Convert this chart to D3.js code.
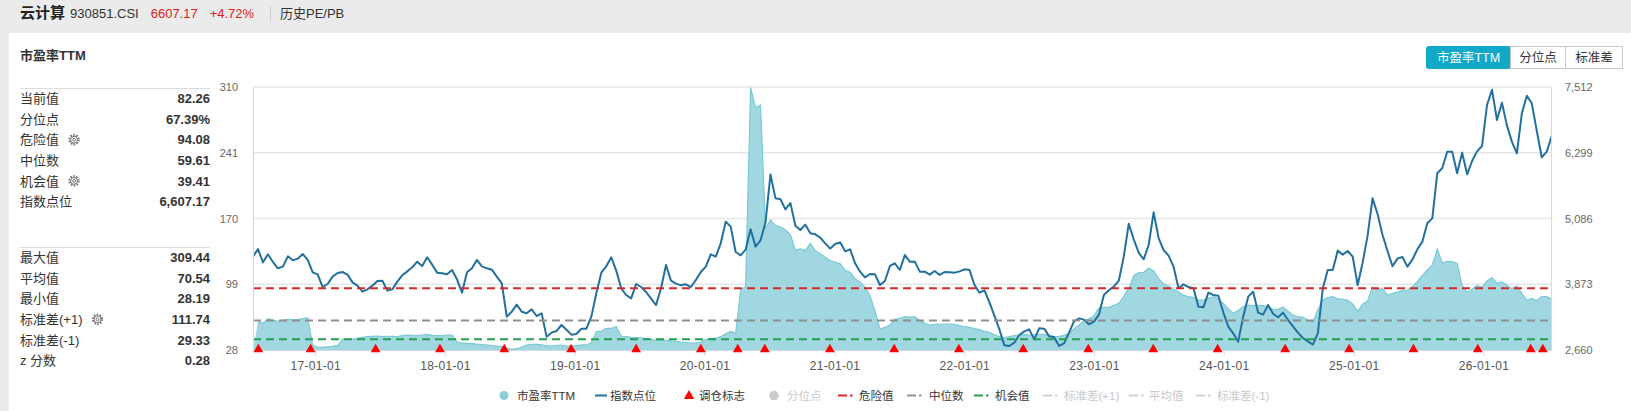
<!DOCTYPE html>
<html><head><meta charset="utf-8">
<script src="https://cdn.jsdelivr.net/npm/d3@7/dist/d3.min.js"></script>
<style>
body{margin:0;background:#ebebeb;font-family:"Liberation Sans","Noto Sans CJK SC",sans-serif;}
svg{display:block}
</style></head><body>
<svg id="c" width="1631" height="411"></svg>
<script>
// ---------------- data ----------------
const seriesStart = "2016-07-10";   // first sample date
const stepDays = 14;                // one sample every two weeks
const domainDates = ["2016-07-10", "2026-07-10"];

const peValues = [
28.19,58.4,56.6,61.6,60.2,58.7,60.2,60.9,60.5,60.9,61.6,62.7,33.0,31.2,30.9,31.6,31.9,33.0,39.4,39.4,
39.8,40.9,41.6,42.3,42.7,43.0,42.3,42.7,42.7,42.3,43.4,44.1,43.7,43.4,44.1,44.8,43.7,43.4,43.4,44.1,
44.1,36.9,35.1,35.1,34.8,34.4,33.7,33.4,32.6,32.3,31.6,29.8,28.7,29.4,31.2,33.4,34.1,34.1,33.4,32.6,
32.3,33.0,33.0,32.3,32.3,32.6,33.4,33.4,35.9,47.7,48.4,51.2,51.2,53.0,43.0,42.3,41.6,41.2,40.9,40.2,
39.4,38.0,38.7,38.4,38.0,37.3,36.6,36.2,35.5,35.9,36.6,39.1,40.5,40.5,42.3,45.5,48.0,45.9,92.7,95.9,
309.4,287.8,290.7,158.5,167.4,161.3,159.9,156.7,151.7,134.9,136.3,134.5,142.4,134.5,131.3,127.4,123.8,122.4,120.6,113.4,
111.3,104.5,100.9,95.5,86.3,69.8,50.5,52.3,54.8,60.9,62.0,63.7,63.4,63.7,59.5,56.6,54.8,55.5,55.5,55.9,
55.9,55.5,54.1,53.0,52.3,50.9,49.8,48.0,46.9,44.4,42.3,41.2,42.3,43.4,44.1,44.8,44.1,44.1,44.8,44.8,
43.7,42.3,42.7,43.7,45.5,50.5,54.8,59.1,61.6,64.8,73.0,73.7,73.7,75.9,78.0,85.5,94.1,107.7,110.9,111.3,
115.6,113.1,104.5,99.1,96.6,93.0,90.2,86.6,85.2,84.5,81.6,81.6,83.4,85.2,82.7,78.0,72.3,67.3,70.2,74.5,
76.2,75.5,75.9,75.5,74.1,71.6,71.6,74.1,69.5,65.5,63.7,63.0,60.2,57.7,70.9,81.6,84.1,85.2,83.0,82.3,
81.6,77.3,69.5,77.0,80.9,95.2,93.0,93.8,86.6,88.8,90.2,92.0,92.3,95.9,101.6,108.1,113.8,119.1,136.3,121.6,
123.1,122.7,120.9,97.3,89.5,93.4,97.0,95.5,102.0,105.6,99.5,100.9,97.7,93.8,96.6,88.8,81.6,83.4,80.9,85.2,
85.2,82.26];

const indexValues = [
4382,4523,4277,4425,4284,4167,4198,4388,4314,4345,4431,4321,4093,4056,3822,3878,4013,4081,4099,4050,
3908,3847,3736,3779,3847,3933,3939,3755,3779,3921,4038,4111,4185,4290,4210,4370,4234,4087,4075,4056,
4136,3964,3718,4093,4167,4321,4204,4167,4142,4013,3890,3275,3367,3496,3367,3337,3410,3287,3337,2906,
2980,3011,3121,3035,2943,2955,3054,3054,3275,3706,4087,4204,4370,4124,3798,3675,3613,3878,3822,3730,
3607,3490,3798,4228,3939,3884,3853,3872,3822,3952,4099,4198,4425,4382,4628,5028,4936,4468,4407,4511,
4886,4567,4683,5015,5900,5458,5440,5255,5372,4954,4874,4972,4813,4794,4733,4628,4530,4616,4646,4480,
4517,4259,4105,4001,4062,4056,3859,3933,4210,4259,4136,4413,4290,4290,4105,4105,4050,4118,4044,4099,
4093,4087,4111,4148,4136,3859,3718,3761,3539,3293,3041,2746,2734,2795,2937,3004,3041,2857,3060,3054,
2912,2894,2734,2783,2980,3189,3244,3220,3134,3183,3312,3675,3761,3829,3939,4382,4990,4702,4456,4333,
4597,5200,4726,4505,4400,4198,3798,3872,3822,3798,3460,3447,3718,3675,3662,3355,3091,2968,2814,3275,
3644,3736,3349,3312,3490,3330,3263,3349,3214,3097,2980,2881,2820,2758,2968,3798,4136,4136,4493,4419,
4487,4382,3859,4271,4769,5458,5169,4782,4487,4204,4345,4376,4198,4327,4517,4659,4997,5089,5920,6012,
6319,6319,5920,6301,5901,6147,6325,6424,7180,7460,6904,7223,6799,6504,6289,7027,7350,7211,6701,6215,
6319,6607];

const rebalanceDates = ["2016-07-25","2016-12-19","2017-06-20","2017-12-18","2018-06-17","2018-12-22",
"2019-06-23","2019-12-22","2020-04-04","2020-06-19","2020-12-19","2021-06-18","2021-12-17","2022-06-16",
"2022-12-16","2023-06-17","2023-12-15","2024-06-22","2024-12-19","2025-06-18","2025-12-16","2026-05-14","2026-06-17"];

const xTickDates = ["2017-01-01","2018-01-01","2019-01-01","2020-01-01","2021-01-01","2022-01-01",
"2023-01-01","2024-01-01","2025-01-01","2026-01-01"];
const leftDomain = [28, 310];
const leftTickValues = [28, 98.5, 169, 239.5, 310];
const leftTickLabels = ["28","99","170","241","310"];
const rightDomain = [2660, 7512];
const rightTickValues = [2660, 3873, 5086, 6299, 7512];

const refNames = ["危险值","中位数","机会值"];
const refValues = [94.08, 59.61, 39.41];
const refColors = ["#d42a2a","#8f8f8f","#23a052"];

const statLabelsA = ["当前值","分位点","危险值","中位数","机会值","指数点位"];
const statValuesA = ["82.26","67.39%","94.08","59.61","39.41","6,607.17"];
const statGearA = [false,false,true,false,true,false];
const statLabelsB = ["最大值","平均值","最小值","标准差(+1)","标准差(-1)","z 分数"];
const statValuesB = ["309.44","70.54","28.19","111.74","29.33","0.28"];
const statGearB = [false,false,false,true,false,false];

const legendNames = ["市盈率TTM","指数点位","调仓标志","分位点","危险值","中位数","机会值","标准差(+1)","平均值","标准差(-1)"];
const legendActive = [true,true,true,false,true,true,true,false,false,false];

// ---------------- drawing ----------------
const svg = d3.select("#c");
const W = 1631, H = 411;
const L = 253, R = 1551, T = 87, B = 350;
const PE_FILL = "#a0d7e0", PE_STROKE = "#7ccad6", IDX = "#23709f";

svg.append("rect").attr("width",W).attr("height",H).attr("fill","#ebebeb");
svg.append("rect").attr("x",9).attr("y",33).attr("width",W-9).attr("height",H-33).attr("fill","#fff");

// header
const hdr = svg.append("text").attr("x",20).attr("y",18).attr("font-size",13).attr("fill","#333");
hdr.append("tspan").attr("font-size",15).attr("font-weight","bold").attr("fill","#222").text("云计算");
hdr.append("tspan").attr("dx",5).text("930851.CSI");
hdr.append("tspan").attr("dx",12).attr("fill","#e02020").text("6607.17");
hdr.append("tspan").attr("dx",12).attr("fill","#e02020").text("+4.72%");
svg.append("line").attr("x1",270.5).attr("x2",270.5).attr("y1",6).attr("y2",21).attr("stroke","#ccc");
svg.append("text").attr("x",280).attr("y",18).attr("font-size",13).attr("fill","#333").text("历史PE/PB");

// left stats panel
svg.append("text").attr("x",20).attr("y",59.5).attr("font-size",13).attr("font-weight","bold").attr("fill","#333").text("市盈率TTM");
function gear(g, cx, cy){
  const s = g.append("g").attr("transform",`translate(${cx},${cy})`).attr("fill","none").attr("stroke","#777");
  s.append("circle").attr("r",4.6).attr("stroke-width",2.2).attr("stroke-dasharray","1.6,1.3");
  s.append("circle").attr("r",3.4).attr("stroke-width",1);
  s.append("circle").attr("r",1.4).attr("stroke-width",1);
}
function statBlock(y0, labels, values, gears){
  const gb = svg.append("g");
  gb.append("line").attr("x1",20).attr("x2",210).attr("y1",y0-10).attr("y2",y0-10).attr("stroke","#dcdcdc");
  labels.forEach((lab,i)=>{
    const y = y0 + i*20.6;
    const t = gb.append("text").attr("x",20).attr("y",y).attr("dy","0.36em").attr("font-size",13).attr("fill","#333").text(lab);
    gb.append("text").attr("x",210).attr("y",y).attr("dy","0.36em").attr("text-anchor","end")
      .attr("font-size",13).attr("font-weight","bold").attr("fill","#333").text(values[i]);
    if (gears[i]) {
      const w = t.node().getComputedTextLength();
      gear(gb, 20 + w + 15, y);
    }
  });
}
statBlock(98.5, statLabelsA, statValuesA, statGearA);
statBlock(257.5, statLabelsB, statValuesB, statGearB);

// buttons
const btnLabels = ["市盈率TTM","分位点","标准差"];
const btnX = [1426.5, 1510.5, 1565.5, 1622.5];
btnLabels.forEach((b,i)=>{
  const active = i===0;
  svg.append("rect").attr("x",btnX[i]).attr("y",46.5).attr("width",btnX[i+1]-btnX[i]).attr("height",22)
    .attr("rx",i===0?2:0).attr("fill",active?"#12a8c8":"#fff").attr("stroke",active?"#12a8c8":"#c8c8c8");
  svg.append("text").attr("x",(btnX[i]+btnX[i+1])/2).attr("y",57.5).attr("dy","0.36em").attr("text-anchor","middle")
    .attr("font-size",12.5).attr("fill",active?"#fff":"#333").text(b);
});

// scales
const parse = d3.timeParse("%Y-%m-%d");
const t0 = parse(seriesStart);
const data = peValues.map((pe,i)=>({date:d3.timeDay.offset(t0,i*stepDays), pe, idx:indexValues[i]}));
const x = d3.scaleTime().domain(domainDates.map(parse)).range([L,R]);
const yL = d3.scaleLinear().domain(leftDomain).range([B,T]);
const yR = d3.scaleLinear().domain(rightDomain).range([B,T]);

svg.append("clipPath").attr("id","clip").append("rect").attr("x",L).attr("y",T-5).attr("width",R-L).attr("height",B-T+5);

// grid
svg.append("g").selectAll("line").data(leftTickValues.slice(1)).join("line")
  .attr("x1",L).attr("x2",R).attr("y1",d=>yL(d)).attr("y2",d=>yL(d)).attr("stroke","#e6e6e6").attr("stroke-width",1.3);

const plot = svg.append("g").attr("clip-path","url(#clip)");
// PE area
plot.append("path").datum(data)
  .attr("d", d3.area().x(d=>x(d.date)).y0(B).y1(d=>yL(d.pe)))
  .attr("fill",PE_FILL);
plot.append("path").datum(data.slice(1))
  .attr("d", d3.line().x(d=>x(d.date)).y(d=>yL(d.pe)))
  .attr("fill","none").attr("stroke",PE_STROKE).attr("stroke-width",1.2);

// reference lines
refValues.forEach((v,i)=>{
  svg.append("line").attr("x1",L).attr("x2",R).attr("y1",yL(v)).attr("y2",yL(v))
    .attr("stroke",refColors[i]).attr("stroke-width",2).attr("stroke-dasharray","8,5");
});

// index line
plot.append("path").datum(data)
  .attr("d", d3.line().x(d=>x(d.date)).y(d=>yR(d.idx)))
  .attr("fill","none").attr("stroke",IDX).attr("stroke-width",2).attr("stroke-linejoin","round");

// axes
const axX = svg.append("g").attr("transform",`translate(0,${B})`)
  .call(d3.axisBottom(x).tickValues(xTickDates.map(parse)).tickFormat(d3.timeFormat("%y-%m-%d")).tickSize(6).tickSizeOuter(0).tickPadding(5));
const axL = svg.append("g").attr("transform",`translate(${L},0)`)
  .call(d3.axisLeft(yL).tickValues(leftTickValues).tickFormat((d,i)=>leftTickLabels[i]).tickSize(0).tickSizeOuter(0).tickPadding(15));
const axR = svg.append("g").attr("transform",`translate(${R},0)`)
  .call(d3.axisRight(yR).tickValues(rightTickValues).tickFormat(d3.format(",")).tickSize(0).tickSizeOuter(0).tickPadding(14));
[axX,axL,axR].forEach(a=>{
  a.select(".domain").attr("stroke","#d3dae6");
  a.selectAll(".tick line").attr("stroke","#d3dae6");
  a.selectAll("text").attr("fill","#666").attr("font-size",11).attr("font-family","Liberation Sans, sans-serif");
});
axX.selectAll("text").attr("font-size",12).attr("letter-spacing","0.3px").attr("fill","#555");

// rebalance triangles
svg.append("g").selectAll("path").data(rebalanceDates).join("path")
  .attr("d", d3.symbol(d3.symbolTriangle, 42))
  .attr("transform", d=>`translate(${x(parse(d))},${B-0.6})`)
  .attr("fill","#ff0000");

// legend
const lg = svg.append("g").attr("font-size",11.5);
const lgSymX = [504, 595, 689, 774, 838, 907, 974, 1043, 1129, 1196];
const lgTxtX = [517, 610, 699, 787, 859, 929, 995, 1064, 1149, 1217];
const LY = 395.5;
legendNames.forEach((n,i)=>{
  const c = legendActive[i] ? "#333" : "#c8c8c8";
  const s = lgSymX[i];
  if (i===0) lg.append("circle").attr("cx",s).attr("cy",LY).attr("r",4.6).attr("fill","#8fcfda");
  else if (i===1) lg.append("line").attr("x1",s).attr("x2",s+12).attr("y1",LY).attr("y2",LY).attr("stroke",IDX).attr("stroke-width",2);
  else if (i===2) lg.append("path").attr("d",d3.symbol(d3.symbolTriangle,46)).attr("transform",`translate(${s},${LY+0.5})`).attr("fill","#ff0000");
  else if (i===3) lg.append("circle").attr("cx",s).attr("cy",LY).attr("r",4.8).attr("fill","#cccccc");
  else {
    const col = legendActive[i] ? refColors[i-4] : "#d0d0d0";
    lg.append("line").attr("x1",s).attr("x2",s+9).attr("y1",LY).attr("y2",LY).attr("stroke",col).attr("stroke-width",2);
    lg.append("line").attr("x1",s+12).attr("x2",s+14.5).attr("y1",LY).attr("y2",LY).attr("stroke",col).attr("stroke-width",2);
  }
  lg.append("text").attr("x",lgTxtX[i]).attr("y",LY).attr("dy","0.36em").attr("fill",c).text(n);
});
</script>
</body></html>
